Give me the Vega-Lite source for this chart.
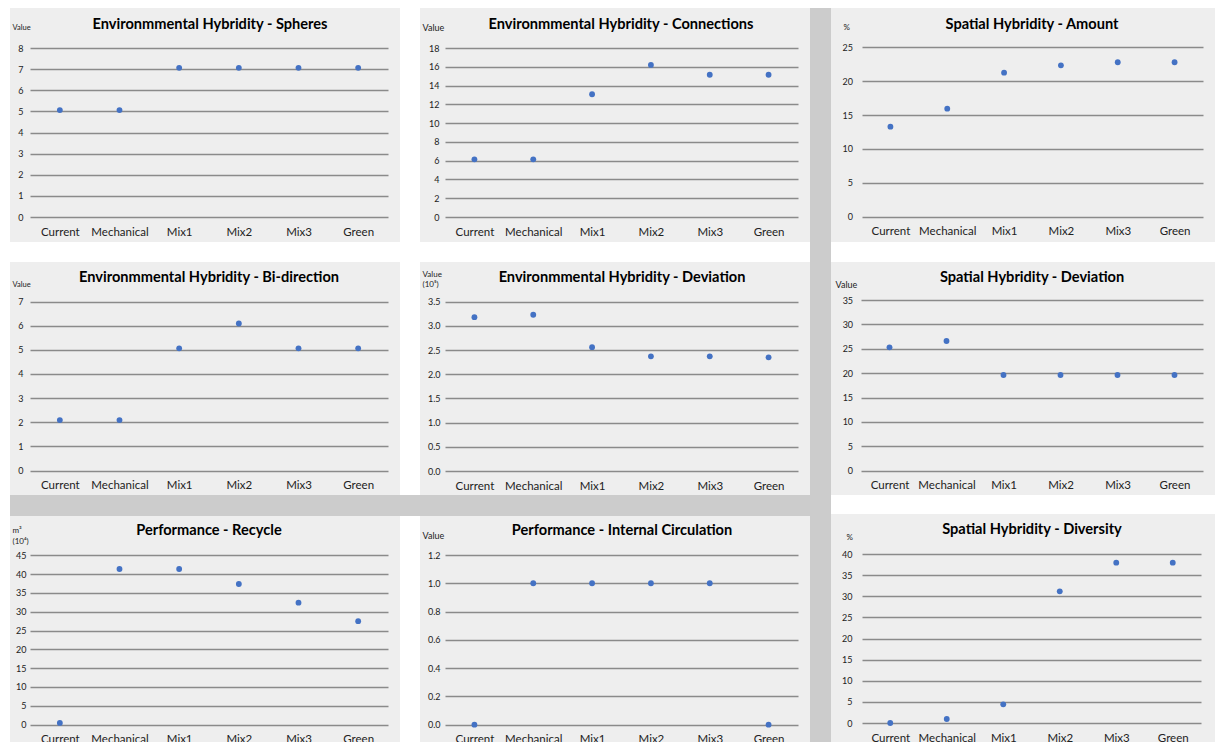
{
  "$schema": "https://vega.github.io/schema/vega-lite/v6.json",
  "background": "white",
  "padding": {"left": 10, "top": 8, "right": 0, "bottom": 0},
  "config": {
    "font": "Lato",
    "view": {"fill": "#eeeeee", "stroke": null},
    "title": {"font": "Lato", "fontSize": 14.6, "fontWeight": "bold", "color": "#000000", "anchor": "middle", "frame": "group", "baseline": "alphabetic"},
    "axis": {"domain": false, "ticks": false, "tickSize": 0, "labelFont": "Lato", "labelColor": "#222222", "titleFont": "Lato", "titleFontWeight": "normal", "titleColor": "#222222", "minExtent": 0, "gridColor": "#8a8a8a", "gridWidth": 1.3, "gridOpacity": 1},
    "axisX": {"grid": false, "labelFontSize": 11.5, "labelAngle": 0, "labelBaseline": "alphabetic", "labelPadding": 18, "labelOverlap": false, "labelFlush": false},
    "axisY": {"grid": true, "labelFontSize": 9, "labelBaseline": "middle", "titleAngle": 0, "titleAlign": "left", "titleBaseline": "alphabetic", "titleFontSize": 8, "titleLineHeight": 10},
    "circle": {"size": 34, "color": "#4472c4", "opacity": 1}
  },
  "spacing": 0,
  "hconcat": [
    {
      "spacing": 0,
      "vconcat": [
        {
          "spacing": 20,
          "vconcat": [
            {
              "spacing": 20,
              "hconcat": [
                {
                  "width": 390, "height": 234,
                  "title": {"text": "Environmmental Hybridity - Spheres", "offset": -24, "dx": 5},
                  "data": {"values": [
                    {"scenario": "Current", "value": 5.06},
                    {"scenario": "Mechanical", "value": 5.06},
                    {"scenario": "Mix1", "value": 7.06},
                    {"scenario": "Mix2", "value": 7.06},
                    {"scenario": "Mix3", "value": 7.06},
                    {"scenario": "Green", "value": 7.06}
                  ]},
                  "mark": "circle",
                  "encoding": {
                    "x": {"field": "scenario", "type": "nominal", "sort": null, "title": null,
                          "scale": {"type": "point", "range": [20, 378], "padding": 0.5},
                          "axis": {"offset": -25}},
                    "y": {"field": "value", "type": "quantitative",
                          "scale": {"domain": [0, 8], "range": [209, 40], "nice": false},
                          "axis": {"offset": -20, "labelPadding": 7, "values": [0, 1, 2, 3, 4, 5, 6, 7, 8],
                                   "title": "Value", "titleX": -18, "titleY": 21, "titleFontSize": 7.5}}
                  }
                },
                {
                  "width": 390, "height": 234,
                  "title": {"text": "Environmmental Hybridity - Connections", "offset": -24, "dx": 6},
                  "data": {"values": [
                    {"scenario": "Current", "value": 6.14},
                    {"scenario": "Mechanical", "value": 6.14},
                    {"scenario": "Mix1", "value": 13.07},
                    {"scenario": "Mix2", "value": 16.2},
                    {"scenario": "Mix3", "value": 15.15},
                    {"scenario": "Green", "value": 15.15}
                  ]},
                  "mark": "circle",
                  "encoding": {
                    "x": {"field": "scenario", "type": "nominal", "sort": null, "title": null,
                          "scale": {"type": "point", "range": [25, 378], "padding": 0.5},
                          "axis": {"offset": -25}},
                    "y": {"field": "value", "type": "quantitative",
                          "scale": {"domain": [0, 18], "range": [209, 40], "nice": false},
                          "axis": {"offset": -25, "labelPadding": 6, "values": [0, 2, 4, 6, 8, 10, 12, 14, 16, 18],
                                   "title": "Value", "titleX": -23, "titleY": 22, "titleFontSize": 9}}
                  }
                }
              ]
            },
            {
              "spacing": 20,
              "hconcat": [
                {
                  "width": 390, "height": 233,
                  "title": {"text": "Environmmental Hybridity - Bi-direction", "offset": -23, "dx": 4},
                  "data": {"values": [
                    {"scenario": "Current", "value": 2.09},
                    {"scenario": "Mechanical", "value": 2.09},
                    {"scenario": "Mix1", "value": 5.06},
                    {"scenario": "Mix2", "value": 6.09},
                    {"scenario": "Mix3", "value": 5.06},
                    {"scenario": "Green", "value": 5.06}
                  ]},
                  "mark": "circle",
                  "encoding": {
                    "x": {"field": "scenario", "type": "nominal", "sort": null, "title": null,
                          "scale": {"type": "point", "range": [20, 378], "padding": 0.5},
                          "axis": {"offset": -24.5}},
                    "y": {"field": "value", "type": "quantitative",
                          "scale": {"domain": [0, 7], "range": [208.5, 39.5], "nice": false},
                          "axis": {"offset": -20, "labelPadding": 7, "values": [0, 1, 2, 3, 4, 5, 6, 7],
                                   "title": "Value", "titleX": -18, "titleY": 24, "titleFontSize": 7.5}}
                  }
                },
                {
                  "width": 390, "height": 233,
                  "title": {"text": "Environmmental Hybridity - Deviation", "offset": -23, "dx": 7},
                  "data": {"values": [
                    {"scenario": "Current", "value": 3.18},
                    {"scenario": "Mechanical", "value": 3.23},
                    {"scenario": "Mix1", "value": 2.56},
                    {"scenario": "Mix2", "value": 2.37},
                    {"scenario": "Mix3", "value": 2.37},
                    {"scenario": "Green", "value": 2.35}
                  ]},
                  "mark": "circle",
                  "encoding": {
                    "x": {"field": "scenario", "type": "nominal", "sort": null, "title": null,
                          "scale": {"type": "point", "range": [25, 378], "padding": 0.5},
                          "axis": {"offset": -24}},
                    "y": {"field": "value", "type": "quantitative",
                          "scale": {"domain": [0, 3.5], "range": [209, 39.7], "nice": false},
                          "axis": {"offset": -25, "labelPadding": 5, "values": [0, 0.5, 1, 1.5, 2, 2.5, 3, 3.5], "format": ".1f",
                                   "title": ["Value", "(10⁵)"], "titleX": -23, "titleY": 14.5, "titleFontSize": 8, "titleLineHeight": 9.5}}
                  }
                }
              ]
            }
          ]
        },
        {
          "width": 800, "height": 21,
          "view": {"fill": "#cccccc", "stroke": null},
          "data": {"values": []},
          "mark": "text",
          "encoding": {}
        },
        {
          "spacing": 20,
          "hconcat": [
            {
              "width": 390, "height": 234,
              "title": {"text": "Performance - Recycle", "offset": -21.3, "dx": 4},
              "data": {"values": [
                {"scenario": "Current", "value": 0.44},
                {"scenario": "Mechanical", "value": 41.35},
                {"scenario": "Mix1", "value": 41.35},
                {"scenario": "Mix2", "value": 37.37},
                {"scenario": "Mix3", "value": 32.4},
                {"scenario": "Green", "value": 27.5}
              ]},
              "mark": "circle",
              "encoding": {
                "x": {"field": "scenario", "type": "nominal", "sort": null, "title": null,
                      "scale": {"type": "point", "range": [20, 378], "padding": 0.5},
                      "axis": {"offset": -25.4}},
                "y": {"field": "value", "type": "quantitative",
                      "scale": {"domain": [0, 45], "range": [208.6, 39.3], "nice": false},
                      "axis": {"offset": -20, "labelPadding": 4, "values": [0, 5, 10, 15, 20, 25, 30, 35, 40, 45],
                               "title": ["m³", "(10⁴)"], "titleX": -18, "titleY": 16.6, "titleFontSize": 8, "titleLineHeight": 11}}
              }
            },
            {
              "width": 390, "height": 234,
              "title": {"text": "Performance - Internal Circulation", "offset": -21.3, "dx": 7},
              "data": {"values": [
                {"scenario": "Current", "value": 0},
                {"scenario": "Mechanical", "value": 1},
                {"scenario": "Mix1", "value": 1},
                {"scenario": "Mix2", "value": 1},
                {"scenario": "Mix3", "value": 1},
                {"scenario": "Green", "value": 0}
              ]},
              "mark": "circle",
              "encoding": {
                "x": {"field": "scenario", "type": "nominal", "sort": null, "title": null,
                      "scale": {"type": "point", "range": [25, 378], "padding": 0.5},
                      "axis": {"offset": -25.3}},
                "y": {"field": "value", "type": "quantitative",
                      "scale": {"domain": [0, 1.2], "range": [208.7, 39], "nice": false},
                      "axis": {"offset": -25, "labelPadding": 5, "values": [0, 0.2, 0.4, 0.6, 0.8, 1, 1.2], "format": ".1f",
                               "title": "Value", "titleX": -23, "titleY": 22.3, "titleFontSize": 9}}
              }
            }
          ]
        }
      ]
    },
    {
      "width": 21, "height": 742,
      "view": {"fill": "#cccccc", "stroke": null},
      "data": {"values": []},
      "mark": "text",
      "encoding": {}
    },
    {
      "spacing": 19,
      "vconcat": [
        {
          "spacing": 20,
          "vconcat": [
            {
              "width": 384, "height": 234,
              "title": {"text": "Spatial Hybridity - Amount", "offset": -24, "dx": 9},
              "data": {"values": [
                {"scenario": "Current", "value": 13.29},
                {"scenario": "Mechanical", "value": 15.94},
                {"scenario": "Mix1", "value": 21.26},
                {"scenario": "Mix2", "value": 22.34},
                {"scenario": "Mix3", "value": 22.79},
                {"scenario": "Green", "value": 22.79}
              ]},
              "mark": "circle",
              "encoding": {
                "x": {"field": "scenario", "type": "nominal", "sort": null, "title": null,
                      "scale": {"type": "point", "range": [31, 372], "padding": 0.5},
                      "axis": {"offset": -25.3}},
                "y": {"field": "value", "type": "quantitative",
                      "scale": {"domain": [0, 25], "range": [208.7, 39.3], "nice": false},
                      "axis": {"offset": -31, "labelPadding": 9.5, "values": [0, 5, 10, 15, 20, 25],
                               "title": "%", "titleX": -19, "titleY": 21.3, "titleFontSize": 8}}
              }
            },
            {
              "width": 384, "height": 233,
              "title": {"text": "Spatial Hybridity - Deviation", "offset": -23, "dx": 9},
              "data": {"values": [
                {"scenario": "Current", "value": 25.29},
                {"scenario": "Mechanical", "value": 26.59},
                {"scenario": "Mix1", "value": 19.62},
                {"scenario": "Mix2", "value": 19.62},
                {"scenario": "Mix3", "value": 19.62},
                {"scenario": "Green", "value": 19.62}
              ]},
              "mark": "circle",
              "encoding": {
                "x": {"field": "scenario", "type": "nominal", "sort": null, "title": null,
                      "scale": {"type": "point", "range": [30, 372], "padding": 0.5},
                      "axis": {"offset": -24.3}},
                "y": {"field": "value", "type": "quantitative",
                      "scale": {"domain": [0, 35], "range": [208.7, 38], "nice": false},
                      "axis": {"offset": -30, "labelPadding": 8.4, "values": [0, 5, 10, 15, 20, 25, 30, 35],
                               "title": "Value", "titleX": -26, "titleY": 25.3, "titleFontSize": 9}}
              }
            }
          ]
        },
        {
          "width": 384, "height": 234,
          "title": {"text": "Spatial Hybridity - Diversity", "offset": -22.3, "dx": 9},
          "data": {"values": [
            {"scenario": "Current", "value": 0},
            {"scenario": "Mechanical", "value": 0.95},
            {"scenario": "Mix1", "value": 4.42},
            {"scenario": "Mix2", "value": 31.16},
            {"scenario": "Mix3", "value": 37.95},
            {"scenario": "Green", "value": 37.95}
          ]},
          "mark": "circle",
          "encoding": {
            "x": {"field": "scenario", "type": "nominal", "sort": null, "title": null,
                  "scale": {"type": "point", "range": [31, 370], "padding": 0.5},
                  "axis": {"offset": -25}},
            "y": {"field": "value", "type": "quantitative",
                  "scale": {"domain": [0, 40], "range": [209, 40], "nice": false},
                  "axis": {"offset": -31, "labelPadding": 10, "values": [0, 5, 10, 15, 20, 25, 30, 35, 40],
                           "title": "%", "titleX": -16, "titleY": 25.3, "titleFontSize": 8}}
          }
        }
      ]
    }
  ]
}
